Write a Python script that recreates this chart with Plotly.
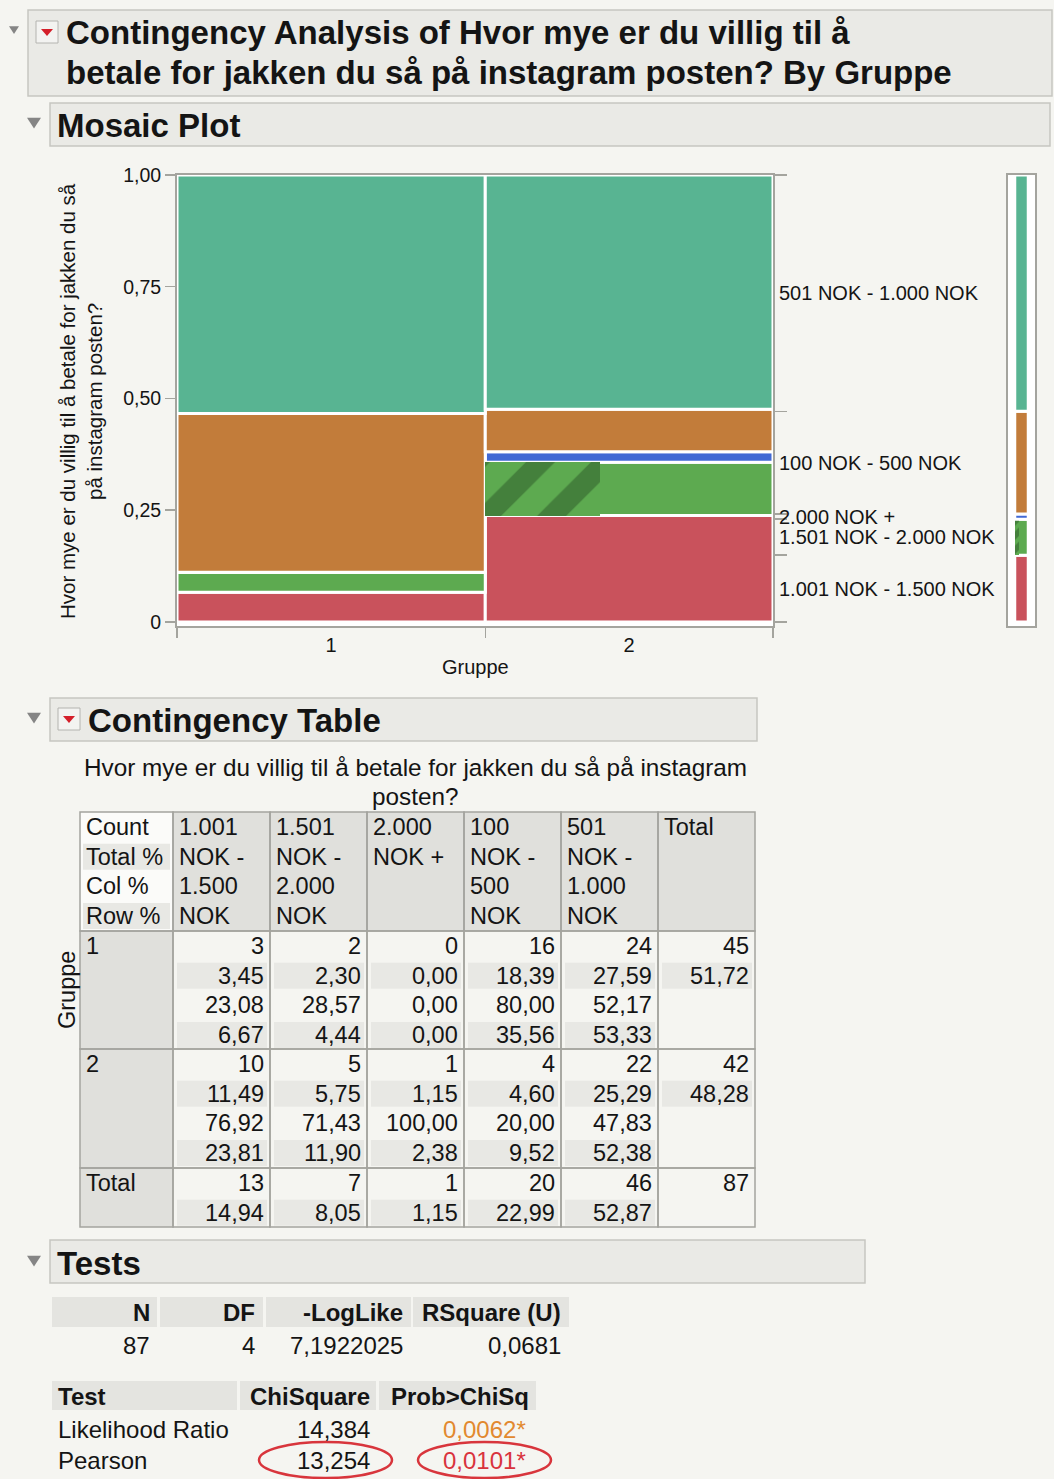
import plotly.graph_objects as go

W, H = 1054, 1479
FONT = "Liberation Sans, Arial, Helvetica, sans-serif"
INK = "#141414"
PAGE_BG = "#f5f5f1"
BOX_BG = "#eaeae6"
BOX_LINE = "#c6c6c1"
CELL_GRAY = "#e0e0dc"
STRIPE = "#e8e8e4"
GRID = "#a4a49e"

# ---------------- data ----------------
groups = ["1", "2"]
categories = ["1.001 NOK - 1.500 NOK", "1.501 NOK - 2.000 NOK", "2.000 NOK +",
              "100 NOK - 500 NOK", "501 NOK - 1.000 NOK"]
header_lines = [["1.001", "NOK -", "1.500", "NOK"],
                ["1.501", "NOK -", "2.000", "NOK"],
                ["2.000", "NOK +", "", ""],
                ["100", "NOK -", "500", "NOK"],
                ["501", "NOK -", "1.000", "NOK"]]
counts_g1 = [3, 2, 0, 16, 24]
counts_g2 = [10, 5, 1, 4, 22]
selected_g1 = [0, 0, 0, 0, 0]
selected_g2 = [0, 2, 0, 0, 0]
cat_colors = ["#c9525c", "#5daa50", "#4169d4", "#c27c3a", "#58b492"]
hatch_color = "#2b5627"
yticks = [0, 0.25, 0.5, 0.75, 1.0]
ytick_labels = ["0", "0,25", "0,50", "0,75", "1,00"]
stat_labels = ["Count", "Total %", "Col %", "Row %"]
summary_headers = ["N", "DF", "-LogLike", "RSquare (U)"]
summary_values = ["87", "4", "7,1922025", "0,0681"]
test_headers = ["Test", "ChiSquare", "Prob>ChiSq"]
test_names = ["Likelihood Ratio", "Pearson"]
chisq_values = ["14,384", "13,254"]
prob_values = ["0,0062*", "0,0101*"]
prob_colors = ["#e2892f", "#d9333d"]

# ---------------- derived ----------------
counts = [counts_g1, counts_g2]
selected = [selected_g1, selected_g2]
n_group = [sum(c) for c in counts]
N = sum(n_group)
col_tot = [a + b for a, b in zip(counts_g1, counts_g2)]
sel_tot = [a + b for a, b in zip(selected_g1, selected_g2)]
widths = [n / N for n in n_group]
starts = [0, widths[0]]
centers = [s + w / 2 for s, w in zip(starts, widths)]


def fmt(v):
    return f"{v:.2f}".replace(".", ",")


def px(x):
    return x / W


def py(y):
    return 1 - y / H


fig = go.Figure()

# ---------------- mosaic ----------------
props = [[c / n for c in cs] for cs, n in zip(counts, n_group)]
bases = []
for p in props:
    b, acc = [], 0
    for v in p:
        b.append(acc)
        acc += v
    bases.append(b)

for k, cat in enumerate(categories):
    fig.add_trace(go.Bar(
        x=centers, y=[props[g][k] for g in range(2)],
        base=[bases[g][k] for g in range(2)], width=widths,
        marker=dict(color=cat_colors[k], line=dict(color="white", width=3)),
        name=cat, showlegend=False, xaxis="x", yaxis="y", hoverinfo="skip"))

# hatched (selected) portions
for g in range(2):
    for k in range(len(categories)):
        if selected[g][k] > 0:
            frac = selected[g][k] / counts[g][k]
            w = widths[g] * frac
            fig.add_trace(go.Bar(
                x=[starts[g] + w / 2], y=[props[g][k]], base=[bases[g][k]], width=[w],
                marker=dict(color=cat_colors[k], line=dict(width=0),
                            pattern=dict(shape="/", fgcolor=hatch_color, bgcolor=cat_colors[k],
                                         size=46, solidity=0.45)),
                showlegend=False, xaxis="x", yaxis="y", hoverinfo="skip"))

# marginal legend bar
marg = [c / N for c in col_tot]
mbase, acc = [], 0
for v in marg:
    mbase.append(acc)
    acc += v
mids = [b + v / 2 for b, v in zip(mbase, marg)]
bounds = [0] + [b + v for b, v in zip(mbase, marg)]
for k, cat in enumerate(categories):
    fig.add_trace(go.Bar(
        x=[0.5], y=[marg[k]], base=[mbase[k]], width=[0.5],
        marker=dict(color=cat_colors[k], line=dict(color="white", width=3)),
        showlegend=False, xaxis="x3", yaxis="y3", hoverinfo="skip"))
    if sel_tot[k] > 0:
        w = 0.5 * sel_tot[k] / col_tot[k]
        fig.add_trace(go.Bar(
            x=[0.25 + w / 2], y=[marg[k]], base=[mbase[k]], width=[w],
            marker=dict(color=cat_colors[k], line=dict(width=0),
                        pattern=dict(shape="/", fgcolor=hatch_color, bgcolor=cat_colors[k],
                                     size=10, solidity=0.6)),
            showlegend=False, xaxis="x3", yaxis="y3", hoverinfo="skip"))

# invisible carrier for the right-hand category axis
fig.add_trace(go.Scatter(x=[1.0] * len(mids), y=mids, mode="markers",
                         marker=dict(opacity=0, size=1), xaxis="x", yaxis="y2",
                         showlegend=False, hoverinfo="skip"))

ydom = [py(626), py(175)]
yrange = [-0.009, 1.0]
axfont = dict(family=FONT, size=19.5, color=INK)

fig.update_layout(
    xaxis=dict(domain=[px(177), px(773)], range=[0, 1], anchor="y", automargin=False,
               tickmode="array", tickvals=centers, ticktext=groups, ticks="",
               minor=dict(tickmode="array", tickvals=[0] + [s + w for s, w in zip(starts, widths)],
                          ticks="outside", ticklen=10, tickcolor=GRID, tickwidth=1.5),
               showline=True, mirror=True, linecolor=GRID, linewidth=2,
               showgrid=False, zeroline=False, tickfont=dict(family=FONT, size=20, color=INK),
               fixedrange=True),
    yaxis=dict(domain=ydom, range=yrange, anchor="x", automargin=False, tickmode="array",
               tickvals=yticks, ticktext=ytick_labels, ticks="outside", ticklen=10,
               tickcolor=GRID, tickwidth=1.5,
               showline=True, mirror=True, linecolor=GRID, linewidth=2, showgrid=False,
               zeroline=False, tickfont=axfont, fixedrange=True),
    yaxis2=dict(overlaying="y", side="right", anchor="x", automargin=False, range=yrange,
                tickmode="array", tickvals=mids, ticktext=categories, ticks="",
                minor=dict(tickmode="array", tickvals=bounds, ticks="outside", ticklen=12,
                           tickcolor=GRID, tickwidth=1.5),
                showline=True, linecolor=GRID, linewidth=2, showgrid=False, zeroline=False,
                tickfont=dict(family=FONT, size=20, color=INK), fixedrange=True),
    xaxis3=dict(domain=[px(1008), px(1035)], range=[0, 1], anchor="y3", automargin=False,
                showticklabels=False, ticks="", showline=True, mirror=True, linecolor=GRID,
                linewidth=2, showgrid=False, zeroline=False, fixedrange=True),
    yaxis3=dict(domain=ydom, range=yrange, anchor="x3", automargin=False, showticklabels=False,
                ticks="", showline=True, mirror=True, linecolor=GRID, linewidth=2,
                showgrid=False, zeroline=False, fixedrange=True),
    barmode="overlay", bargap=0,
)

shapes = []
ann = []


def rect(x0, y0, x1, y1, fill=None, line=None, lw=1):
    shapes.append(dict(type="rect", xref="paper", yref="paper",
                       x0=px(x0), x1=px(x1), y0=py(y1), y1=py(y0),
                       fillcolor=fill if fill else "rgba(0,0,0,0)",
                       line=dict(color=line if line else "rgba(0,0,0,0)", width=lw if line else 0),
                       layer="below" if fill and not line else "above"))


def text(s, x, y, size, xanchor="left", color=INK, bold=False, angle=0, yanchor="middle"):
    ann.append(dict(text=f"<b>{s}</b>" if bold else s, x=px(x), y=py(y), xref="paper", yref="paper",
                    xanchor=xanchor, yanchor=yanchor, showarrow=False, textangle=angle,
                    font=dict(family=FONT, size=size, color=color), borderpad=0))


def tri(cx, cy, s=7, color="#858585"):
    path = (f"M {px(cx - s)} {py(cy - s * 0.75)} L {px(cx + s)} {py(cy - s * 0.75)} "
            f"L {px(cx)} {py(cy + s * 0.8)} Z")
    shapes.append(dict(type="path", xref="paper", yref="paper", path=path,
                       fillcolor=color, line=dict(width=0)))


def red_icon(x0, y0, size=22):
    shapes.append(dict(type="rect", xref="paper", yref="paper", x0=px(x0), x1=px(x0 + size),
                       y0=py(y0 + size), y1=py(y0), fillcolor="#f3f3f1",
                       line=dict(color="#b4b4b0", width=1)))
    cx, cy = x0 + size / 2, y0 + size / 2
    path = (f"M {px(cx - 6)} {py(cy - 3)} L {px(cx + 6)} {py(cy - 3)} L {px(cx)} {py(cy + 4)} Z")
    shapes.append(dict(type="path", xref="paper", yref="paper", path=path,
                       fillcolor="#d41f2a", line=dict(width=0)))


# ---------------- headers ----------------
tri(14, 30, s=5)
rect(28, 10, 1052, 96, fill=BOX_BG)
rect(28, 10, 1052, 96, line=BOX_LINE, lw=1.5)
red_icon(36, 21)
text("Contingency Analysis of Hvor mye er du villig til å", 65, 33, 33, bold=True)
text("betale for jakken du så på instagram posten? By Gruppe", 65, 73, 33, bold=True)

tri(34, 123)
rect(50, 103, 1050, 146, fill=BOX_BG)
rect(50, 103, 1050, 146, line=BOX_LINE, lw=1.5)
text("Mosaic Plot", 56, 125, 33, bold=True)

# mosaic axis titles
text("Hvor mye er du villig til å betale for jakken du så<br>på instagram posten?", 81, 401, 20.5,
     xanchor="center", angle=-90)
text("Gruppe", 475, 667, 20, xanchor="center")

# ---------------- contingency table ----------------
tri(34, 718)
rect(50, 698, 757, 741, fill=BOX_BG)
rect(50, 698, 757, 741, line=BOX_LINE, lw=1.5)
red_icon(58, 708)
text("Contingency Table", 87, 720, 33, bold=True)

TS = 23.5
text("Hvor mye er du villig til å betale for jakken du så på instagram", 415, 767, 24.3,
     xanchor="center")
text("posten?", 415, 796, 24.3, xanchor="center")

cols = [80, 173, 270, 367, 464, 561, 658, 755]
row_tops = [812, 931, 1049, 1168, 1227]
PITCH = 29.7


def line_y(top, i):
    return top + 15 + i * PITCH


# fills
rect(cols[0], row_tops[0], cols[1], row_tops[1], fill="#fbfbf9")
for j in range(1, 7):
    rect(cols[j], row_tops[0], cols[j + 1], row_tops[1], fill=CELL_GRAY)
for r in range(1, 4):
    rect(cols[0], row_tops[r], cols[1], row_tops[r + 1], fill=CELL_GRAY)
# label stripes
for i in (1, 3):
    yc = line_y(row_tops[0], i)
    rect(cols[0] + 3, yc - 13, cols[1] - 3, yc + 13, fill=STRIPE)

for i, lab in enumerate(stat_labels):
    text(lab, cols[0] + 5, line_y(row_tops[0], i), TS)
for j, lines in enumerate(header_lines):
    for i, l in enumerate(lines):
        if l:
            text(l, cols[j + 1] + 5, line_y(row_tops[0], i), TS)
text("Total", cols[6] + 5, line_y(row_tops[0], 0), TS)

row_names = groups + ["Total"]
for r, nm in enumerate(row_names):
    text(nm, cols[0] + 5, line_y(row_tops[r + 1], 0), TS)

# group rows
for g in range(2):
    top = row_tops[g + 1]
    for k in range(5):
        c = counts[g][k]
        vals = [str(c), fmt(100 * c / N), fmt(100 * c / col_tot[k]), fmt(100 * c / n_group[g])]
        for i, v in enumerate(vals):
            yc = line_y(top, i)
            if i in (1, 3):
                rect(cols[k + 1] + 4, yc - 13, cols[k + 2] - 3, yc + 13, fill=STRIPE)
            text(v, cols[k + 2] - 5, yc, TS, xanchor="right")
    vals = [str(n_group[g]), fmt(100 * n_group[g] / N)]
    for i, v in enumerate(vals):
        yc = line_y(top, i)
        if i == 1:
            rect(cols[6] + 4, yc - 13, cols[7] - 3, yc + 13, fill=STRIPE)
        text(v, cols[7] - 5, yc, TS, xanchor="right")

# total row
top = row_tops[3]
for k in range(5):
    vals = [str(col_tot[k]), fmt(100 * col_tot[k] / N)]
    for i, v in enumerate(vals):
        yc = line_y(top, i)
        if i == 1:
            rect(cols[k + 1] + 4, yc - 13, cols[k + 2] - 3, yc + 13, fill=STRIPE)
        text(v, cols[k + 2] - 5, yc, TS, xanchor="right")
text(str(N), cols[7] - 5, line_y(top, 0), TS, xanchor="right")

# grid
for r in range(4):
    for j in range(7):
        rect(cols[j], row_tops[r], cols[j + 1], row_tops[r + 1], line=GRID, lw=1.5)

text("Gruppe", 67, 990, TS, xanchor="center", angle=-90)

# ---------------- tests ----------------
tri(34, 1261)
rect(50, 1240, 865, 1283, fill=BOX_BG)
rect(50, 1240, 865, 1283, line=BOX_LINE, lw=1.5)
text("Tests", 56, 1263, 33, bold=True)

TT = 24
HDR = "#e4e4e0"
s_cells = [(52, 157), (160, 263), (266, 411), (413, 569)]
s_right = [151, 256, 404, 562]
for (x0, x1), hdr, v, xr in zip(s_cells, summary_headers, summary_values, s_right):
    rect(x0, 1297, x1, 1327, fill=HDR)
    text(hdr, xr, 1312, TT, xanchor="right", bold=True)
    text(v, xr, 1345, TT, xanchor="right")

t_cells = [(52, 237), (240, 376), (379, 536)]
for (x0, x1) in t_cells:
    rect(x0, 1381, x1, 1410, fill=HDR)
text(test_headers[0], 57, 1396, TT, bold=True)
text(test_headers[1], 371, 1396, TT, xanchor="right", bold=True)
text(test_headers[2], 530, 1396, TT, xanchor="right", bold=True)
for i, (nm, cv, pv, pc) in enumerate(zip(test_names, chisq_values, prob_values, prob_colors)):
    yc = 1429 + i * 31
    text(nm, 57, yc, TT)
    text(cv, 371, yc, TT, xanchor="right")
    text(pv, 527, yc, TT, xanchor="right", color=pc)

# red ellipses (annotation marks on the screenshot)
for x0, x1 in [(259, 392), (418, 551)]:
    shapes.append(dict(type="circle", xref="paper", yref="paper", x0=px(x0), x1=px(x1),
                       y0=py(1478), y1=py(1442), line=dict(color="#d8353c", width=2.5)))

fig.update_layout(
    width=W, height=H, margin=dict(l=0, r=0, t=0, b=0, autoexpand=False),
    paper_bgcolor=PAGE_BG, plot_bgcolor="white",
    shapes=shapes, annotations=ann, showlegend=False,
    font=dict(family=FONT, color=INK),
)

fig.write_html("out.html", config={"displayModeBar": False, "staticPlot": True},
               post_script="document.body.style.margin='0';document.body.style.overflow='hidden';")
